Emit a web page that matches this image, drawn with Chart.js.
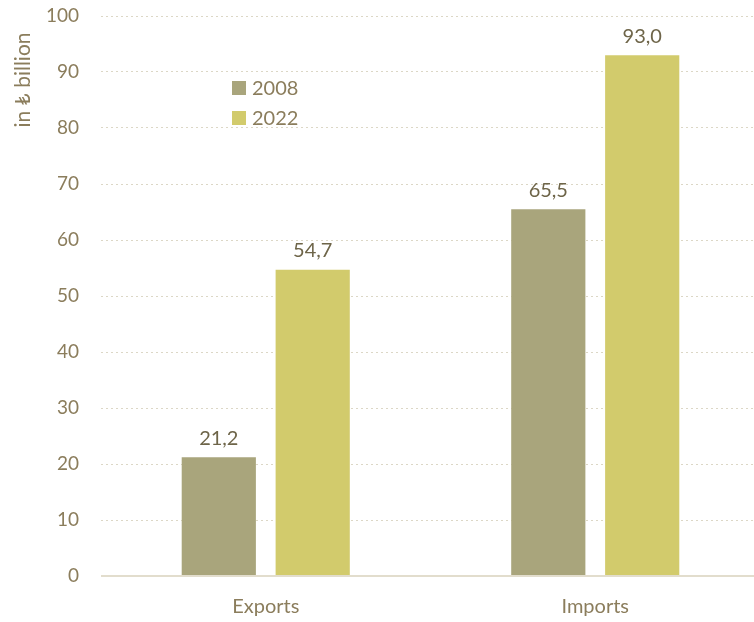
<!DOCTYPE html>
<html>
<head>
<meta charset="utf-8">
<script src="https://cdn.jsdelivr.net/npm/chart.js@4"></script>
<style>
  html, body { margin: 0; padding: 0; background: #ffffff; }
  #wrap { width: 754px; height: 622px; position: relative; }
</style>
</head>
<body>
<div id="wrap"><canvas id="c" width="754" height="622"></canvas></div>
<script>
const categories = ['Exports', 'Imports'];
const seriesLabels = ['2008', '2022'];
const values2008 = [21.2, 65.5];
const values2022 = [54.7, 93.0];
const yTicks = [0, 10, 20, 30, 40, 50, 60, 70, 80, 90, 100];
const axisTitle = 'in ₺ billion';

const FONT = 'Lato, "Open Sans", "DejaVu Sans", sans-serif';
const TICK_COLOR = '#8b7d5c';
const LABEL_COLOR = '#6e6549';
const colors = ['#a9a57c', '#d2cb6c'];

const fmt = v => v.toFixed(1).replace('.', ',');

// let the plot area run slightly past the right canvas edge
const widenPlot = {
  id: 'widenPlot',
  afterLayout(chart) {
    const x = chart.scales.x;
    const extra = 6;
    x.right += extra;
    x.width += extra;
    x.configure();
    chart.chartArea.right += extra;
    chart.chartArea.width += extra;
  }
};

// value labels above bars, axis title, legend and baseline
const extras = {
  id: 'extras',
  afterDatasetsDraw(chart) {
    const ctx = chart.ctx;
    const yScale = chart.scales.y;
    ctx.save();
    // baseline
    const y0 = yScale.getPixelForValue(0);
    ctx.strokeStyle = '#e2ddcd';
    ctx.lineWidth = 2;
    ctx.beginPath();
    ctx.moveTo(chart.chartArea.left, y0);
    ctx.lineTo(chart.width, y0);
    ctx.stroke();

    // value labels
    ctx.font = '20px ' + FONT;
    ctx.fillStyle = LABEL_COLOR;
    ctx.textAlign = 'center';
    ctx.textBaseline = 'bottom';
    chart.data.datasets.forEach((ds, i) => {
      chart.getDatasetMeta(i).data.forEach((bar, j) => {
        ctx.fillText(fmt(ds.data[j]), bar.x, bar.y - 9);
      });
    });

    // legend
    chart.data.datasets.forEach((ds, i) => {
      const cy = 88 + i * 30;
      ctx.fillStyle = ds.backgroundColor;
      ctx.fillRect(232, cy - 7, 14, 14);
      ctx.fillStyle = TICK_COLOR;
      ctx.textAlign = 'left';
      ctx.textBaseline = 'middle';
      ctx.fillText(ds.label, 252, cy + 1);
    });

    // axis title
    ctx.font = '21px ' + FONT;
    ctx.translate(23, 80);
    ctx.rotate(-Math.PI / 2);
    ctx.fillStyle = TICK_COLOR;
    ctx.textAlign = 'center';
    ctx.textBaseline = 'middle';
    ctx.fillText(axisTitle, 0, 0);
    ctx.restore();
  }
};

new Chart(document.getElementById('c'), {
  type: 'bar',
  data: {
    labels: categories,
    datasets: [
      { label: seriesLabels[0], data: values2008, backgroundColor: colors[0] },
      { label: seriesLabels[1], data: values2022, backgroundColor: colors[1] }
    ]
  },
  options: {
    responsive: false,
    animation: false,
    layout: { padding: { top: 16, right: 0, left: 0, bottom: 0 } },
    categoryPercentage: 0.57,
    barPercentage: 0.79,
    plugins: {
      legend: { display: false },
      tooltip: { enabled: false }
    },
    scales: {
      x: {
        grid: { display: false },
        border: { display: false },
        ticks: { color: TICK_COLOR, font: { family: FONT, size: 20 }, padding: 11 },
        afterFit(scale) { scale.height = 46; }
      },
      y: {
        min: 0,
        max: 100,
        afterBuildTicks(scale) { scale.ticks = yTicks.map(v => ({ value: v })); },
        grid: { color: '#dcd7c6', lineWidth: 1, drawTicks: false },
        border: { display: false, dash: [2, 3] },
        ticks: { color: TICK_COLOR, font: { family: FONT, size: 19 }, padding: 22 },
        afterFit(scale) {
          scale.width = 101;
          scale.paddingTop = 0;
          scale.paddingBottom = 0;
        }
      }
    }
  },
  plugins: [widenPlot, extras]
});
</script>
</body>
</html>
